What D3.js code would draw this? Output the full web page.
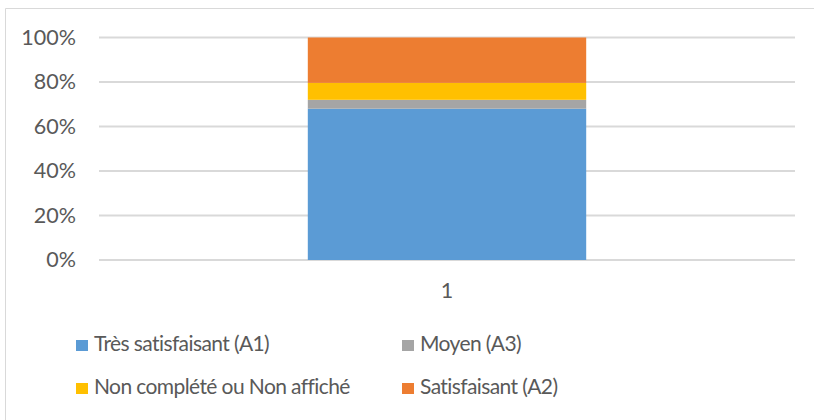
<!DOCTYPE html>
<html>
<head>
<meta charset="utf-8">
<script src="https://cdn.jsdelivr.net/npm/d3@7"></script>
<style>
  body { margin: 0; background: #fff; }
  text { font-family: Lato, "Open Sans", sans-serif; fill: #595959; }
</style>
</head>
<body>
<div id="vis"></div>
<script>
// data
var categories = ['1'];
var seriesNames = ['Très satisfaisant (A1)', 'Moyen (A3)', 'Non complété ou Non affiché', 'Satisfaisant (A2)'];
var seriesValues = [68, 4, 7.6, 20.4];
var seriesColors = ['#5B9BD5', '#A5A5A5', '#FFC000', '#ED7D31'];
var yTicks = [0, 0.2, 0.4, 0.6, 0.8, 1];
// legend layout order (row by row)
var legendOrder = [0, 1, 2, 3];

var width = 814;
var height = 420;
var margin = { top: 37.5, left: 99, right: 19, bottom: 160 };

var svg = d3.select('#vis')
  .append('svg')
  .attr('width', width)
  .attr('height', height);

// chart border (top and left visible)
svg.append('path')
  .attr('d', 'M5.5,' + height + 'V8.5H' + width)
  .attr('fill', 'none')
  .attr('stroke', '#d9d9d9')
  .attr('stroke-width', 1);

var x = d3.scaleBand()
  .domain(categories)
  .range([margin.left, width - margin.right])
  .paddingInner(0.6)
  .paddingOuter(0.3);

var y = d3.scaleLinear()
  .domain([0, 1])
  .range([260, margin.top]);

// gridlines
svg.append('g')
  .selectAll('line')
  .data(yTicks)
  .enter().append('line')
  .attr('x1', margin.left)
  .attr('x2', width - margin.right)
  .attr('y1', function (d) { return y(d); })
  .attr('y2', function (d) { return y(d); })
  .attr('stroke', '#d9d9d9')
  .attr('stroke-width', 2);

// y labels
var yAxis = d3.axisLeft(y)
  .tickValues(yTicks)
  .tickFormat(d3.format('.0%'))
  .tickSize(0)
  .tickPadding(0);

svg.append('g')
  .attr('transform', 'translate(76,0)')
  .call(yAxis)
  .call(function (g) { g.select('.domain').remove(); })
  .selectAll('text')
  .attr('font-size', 21.5)
  .style('font-family', 'Lato, sans-serif')
  .attr('fill', '#595959');

// stacked bar
var total = d3.sum(seriesValues);
var stackData = [{}];
seriesNames.forEach(function (n, i) { stackData[0][n] = seriesValues[i] / total; });
var stack = d3.stack().keys(seriesNames)(stackData);

svg.append('g')
  .selectAll('rect')
  .data(stack)
  .enter().append('rect')
  .attr('x', x(categories[0]))
  .attr('width', x.bandwidth())
  .attr('y', function (d) { return y(d[0][1]); })
  .attr('height', function (d) { return y(d[0][0]) - y(d[0][1]); })
  .attr('fill', function (d, i) { return seriesColors[i]; });

// x labels
var xAxis = d3.axisBottom(x).tickSize(0).tickPadding(0);
svg.append('g')
  .attr('transform', 'translate(0,283)')
  .call(xAxis)
  .call(function (g) { g.select('.domain').remove(); })
  .selectAll('text')
  .attr('font-size', 21.5)
  .attr('dy', '0.71em')
  .style('font-family', 'Lato, sans-serif')
  .attr('fill', '#595959');

// legend
var legendX = [76, 402];
var legendY = [340, 383];
var legend = svg.append('g')
  .selectAll('g')
  .data(legendOrder)
  .enter().append('g')
  .attr('transform', function (d, i) {
    return 'translate(' + legendX[i % 2] + ',' + legendY[Math.floor(i / 2)] + ')';
  });

legend.append('rect')
  .attr('width', 12)
  .attr('height', 11)
  .attr('fill', function (d) { return seriesColors[d]; });

legend.append('text')
  .attr('x', 18)
  .attr('y', 11)
  .attr('font-size', 21)
  .attr('letter-spacing', -0.6)
  .text(function (d) { return seriesNames[d]; });
</script>
</body>
</html>
